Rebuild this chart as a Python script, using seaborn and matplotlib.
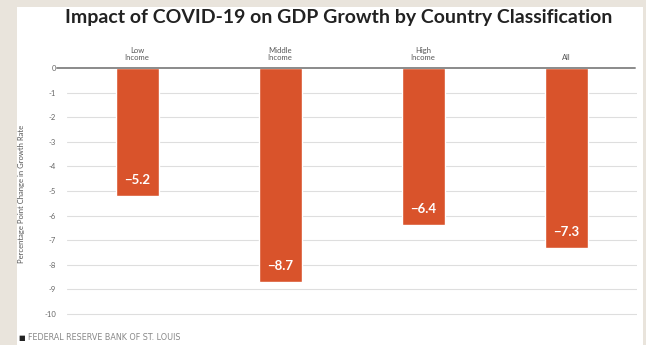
import matplotlib
matplotlib.use("Agg")
import matplotlib.pyplot as plt
import seaborn as sns
import pandas as pd
from matplotlib.patches import Rectangle

categories = ["Low\nIncome", "Middle\nIncome", "High\nIncome", "All"]
values = [-5.2, -8.7, -6.4, -7.3]
value_labels = ["\u22125.2", "\u22128.7", "\u22126.4", "\u22127.3"]
yticks = list(range(0, -11, -1))

sns.set_theme(style="white")
plt.rcParams['font.family'] = ['Lato', 'DejaVu Sans']

df = pd.DataFrame({"cat": categories, "val": values})

fig = plt.figure(figsize=(6.46, 3.45), dpi=100)
fig.patch.set_facecolor("#e9e4dc")
fig.add_artist(Rectangle((17/646, 0), (643-17)/646, 1-7/345, transform=fig.transFigure,
                         facecolor="white", edgecolor="none", zorder=0))

ax = fig.add_axes([67/646, 1-319/345, (637-67)/646, (319-68)/345])
ax.set_facecolor("none")
sns.barplot(data=df, x="cat", y="val", color="#d9532b", width=0.30, saturation=1, ax=ax, zorder=3)
ax.set_xlim(-0.49, 3.496)
ax.set_ylim(-10.2, 0)
ax.set_yticks(yticks)
ax.set_yticklabels([str(t) if t == 0 else "-" + str(-t) for t in yticks], fontsize=5.5, color="#666666")
for t in yticks[1:]:
    ax.axhline(t, color="#dedede", lw=0.8, zorder=1)
ax.plot([-0.56, 3.48], [0, 0], color="#8a8a8a", lw=1.4, clip_on=False, zorder=4)
ax.tick_params(axis="y", length=0, pad=8)
ax.set_xticks([])
ax.set_xlabel("")
ax.set_ylabel("Percentage Point Change in Growth Rate", fontsize=5.5, color="#555555", labelpad=14)
for s in ax.spines.values():
    s.set_visible(False)

for i, (c, v, lab) in enumerate(zip(categories, values, value_labels)):
    ax.text(i, v + 0.65, lab, ha="center", va="center", color="white",
            fontsize=9.5, fontweight="bold", zorder=5)
    ax.text(i, 0.3, c, ha="center", va="bottom", fontsize=5.5, color="#555555",
            linespacing=1.0, clip_on=False)

fig.text(339/646, 1-18/345, "Impact of COVID-19 on GDP Growth by Country Classification",
         ha="center", va="center", fontsize=14, fontweight="bold", color="#222222")
fig.text(18/646, 1-338/345, "\u25a0", ha="left", va="center", fontsize=5, color="#222222",
         family=["DejaVu Sans"])
fig.text(28/646, 1-338/345, "FEDERAL RESERVE BANK OF ST. LOUIS", ha="left", va="center",
         fontsize=5.8, color="#888888", family=["DejaVu Sans"])

fig.savefig("out.png", dpi=100, facecolor=fig.get_facecolor())
